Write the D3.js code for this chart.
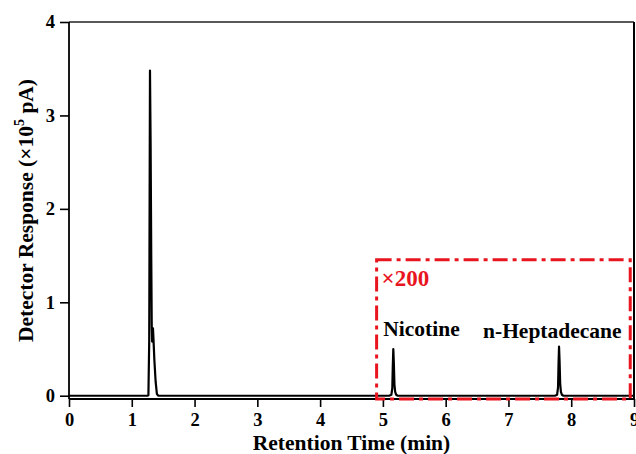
<!DOCTYPE html>
<html><head><meta charset="utf-8">
<script src="https://cdn.jsdelivr.net/npm/d3@7"></script>
<style>body{margin:0;background:#fff}svg{display:block}text{font-family:"Liberation Serif","Times New Roman",serif;font-weight:bold}</style>
</head><body>
<svg id="c" width="636" height="454"></svg>
<script>
// Retention time (min) and detector response (x10^5 pA)
const time = [0, 1.25, 1.265, 1.278, 1.29, 1.300, 1.310, 1.318, 1.324, 1.330, 1.338, 1.346, 1.36, 1.38, 1.40, 1.42, 1.6,
  5.10, 5.135, 5.150, 5.158, 5.166, 5.174, 5.184, 5.196, 5.212, 5.235,
  7.74, 7.775, 7.790, 7.798, 7.806, 7.814, 7.824, 7.836, 7.852, 7.875, 9.0];
const response = [0, 0, 0.005, 0.6, 3.48, 2.7, 1.5, 0.75, 0.58, 0.68, 0.72, 0.6, 0.38, 0.15, 0.02, 0, 0,
  0, 0.01, 0.08, 0.32, 0.5, 0.36, 0.12, 0.04, 0.01, 0,
  0, 0.01, 0.09, 0.34, 0.525, 0.38, 0.13, 0.04, 0.01, 0, 0];
const xTicks = [0,1,2,3,4,5,6,7,8,9];
const yTicks = [0,1,2,3,4];
const peakLabels = [{name:"Nicotine", t:5.166}, {name:"n-Heptadecane", t:7.806}];
const zoomBox = {t0:4.9, t1:8.94, y0:-0.035, y1:1.455, label:"×200"};

const svg = d3.select("#c");
const L=69, R=634, T=22, B=399;
const x = d3.scaleLinear().domain([0,9]).range([L,R]);
const y = d3.scaleLinear().domain([-0.035,4]).range([B,T]);

// frame top/right
svg.append("line").attr("x1",L).attr("x2",R).attr("y1",T).attr("y2",T).attr("stroke","#222").attr("stroke-width",1.5);
svg.append("line").attr("x1",R).attr("x2",R).attr("y1",T).attr("y2",B).attr("stroke","#000").attr("stroke-width",2);

const xa = svg.append("g").attr("transform",`translate(0,${B})`)
  .call(d3.axisBottom(x).tickValues(xTicks).tickFormat(d3.format("d")).tickSizeOuter(0).tickSize(8).tickPadding(6));
const ya = svg.append("g").attr("transform",`translate(${L},0)`)
  .call(d3.axisLeft(y).tickValues(yTicks).tickFormat(d3.format("d")).tickSizeOuter(0).tickSize(9).tickPadding(5));
[xa,ya].forEach(g=>{
  g.select(".domain").attr("stroke","#000").attr("stroke-width",1.8);
  g.selectAll(".tick line").attr("stroke","#000").attr("stroke-width",1.6);
  g.selectAll(".tick text").attr("fill","#000").style("font-size","18.5px").style("font-family","Liberation Serif").style("font-weight","bold");
});
ya.select(".domain").attr("d",`M0,${T}V${B}`);
xa.select(".domain").attr("d",`M${L},0H${R}`);

// data line
const line = d3.line().x((d,i)=>x(time[i])).y((d,i)=>y(response[i]));
svg.append("path").datum(response).attr("d",line).attr("fill","none").attr("stroke","#000").attr("stroke-width",2.2).attr("stroke-linejoin","round");

// zoom box
svg.append("rect").attr("x",x(zoomBox.t0)).attr("y",y(zoomBox.y1))
  .attr("width",x(zoomBox.t1)-x(zoomBox.t0)).attr("height",y(zoomBox.y0)-y(zoomBox.y1))
  .attr("fill","none").attr("stroke","#e8151f").attr("stroke-width",3).attr("stroke-dasharray","15,5,4,5");
svg.append("text").attr("x",x(zoomBox.t0)+5).attr("y",y(zoomBox.y1)+26).attr("fill","#e8151f").style("font-size","23px").text(zoomBox.label);

// peak labels
svg.selectAll(".pl").data(peakLabels).enter().append("text")
  .attr("x",d=>d.name==="Nicotine"?x(d.t)-10:x(d.t)-76).attr("y",d=>d.name==="Nicotine"?336:338)
  .style("font-size","21.5px").attr("fill","#000").text(d=>d.name);

// axis titles
svg.append("text").attr("x",(L+R)/2).attr("y",450).attr("text-anchor","middle").style("font-size","21.5px").text("Retention Time (min)");
const yt = svg.append("text").attr("transform",`translate(33,${(T+B)/2}) rotate(-90)`).attr("text-anchor","middle").style("font-size","21.5px");
yt.append("tspan").text("Detector Response (×10");
yt.append("tspan").attr("dy",-9).style("font-size","14px").text("5");
yt.append("tspan").attr("dy",9).text(" pA)");
</script>
</body></html>
